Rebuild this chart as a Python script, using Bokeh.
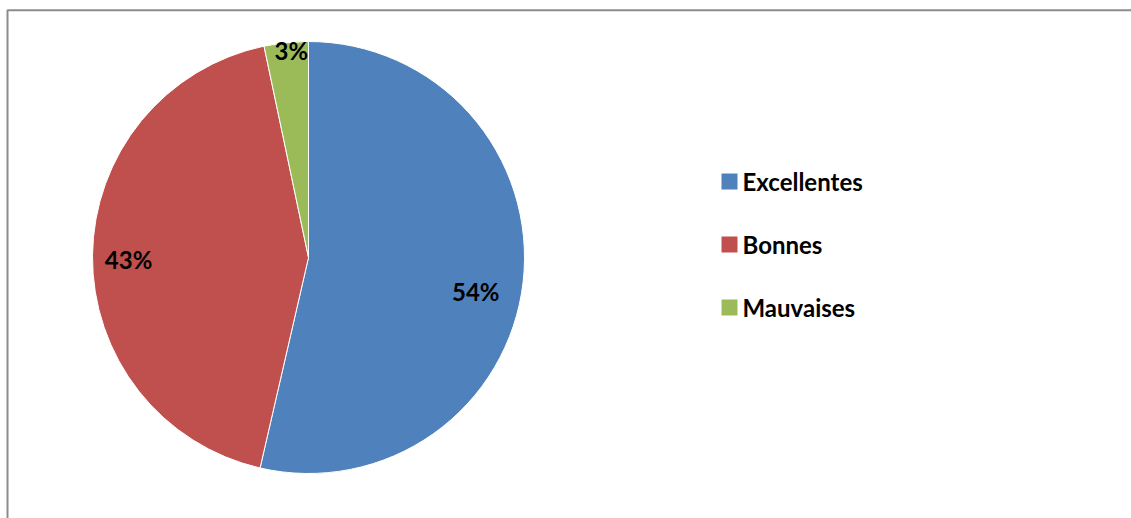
import numpy as np
from bokeh.plotting import figure
from bokeh.models import Range1d, ColumnDataSource
from bokeh.core.properties import value
from bokeh.embed import file_html
from bokeh.resources import INLINE

# ---- data ----
categories = ["Excellentes", "Bonnes", "Mauvaises"]
shares = [53.6, 43.1, 3.3]          # slice sizes
labels = ["54%", "43%", "3%"]       # labels as printed
colors = ["#4F81BD", "#C0504D", "#9BBB59"]

# ---- layout ----
W, H = 1131, 518
cx, cy, R = 308, 261, 216
label_r = [0.79, 0.833, 0.96]
label_shift_deg = [-5.0, 1.1, -1.2]
FONT = "Lato"

p = figure(width=W, height=H, output_backend="svg", toolbar_location=None,
           x_range=Range1d(0, W), y_range=Range1d(0, H),
           x_axis_type=None, y_axis_type=None, min_border=0)
p.outline_line_color = None
p.grid.visible = False
p.background_fill_color = "white"
p.border_fill_color = "white"

vals = np.array(shares, dtype=float)
frac = vals / vals.sum()
ends = np.pi / 2 - 2 * np.pi * np.cumsum(frac)
starts = np.concatenate([[np.pi / 2], ends[:-1]])
src = ColumnDataSource(dict(start=starts, end=ends, color=colors, cat=categories))
p.wedge(x=cx, y=cy, radius=R, start_angle="start", end_angle="end",
        direction="clock", fill_color="color", line_color="white", line_width=1,
        source=src)

mids = (starts + ends) / 2 + np.radians(label_shift_deg)
lx = [cx + R * r * np.cos(m) for r, m in zip(label_r, mids)]
ly = [cy + R * r * np.sin(m) for r, m in zip(label_r, mids)]
p.text(x=lx, y=ly, text=labels,
       text_font=value(FONT), text_font_style="bold", text_font_size="24px",
       text_align="center", text_baseline="middle", text_color="black")

# legend
leg_x, leg_y0, leg_dy = 729, 337, 63
ys = [leg_y0 - i * leg_dy for i in range(len(categories))]
p.rect(x=[leg_x] * len(categories), y=ys, width=16, height=16,
       fill_color=colors, line_color=None)
p.text(x=[leg_x + 13] * len(categories), y=ys, text=categories,
       text_font=value(FONT), text_font_style="bold", text_font_size="24px",
       text_align="left", text_baseline="middle", text_color="black")

# chart border (top & left visible; right/bottom outside the window)
p.line(x=[7, 7, W + 20], y=[-20, 508.3, 508.3], line_color="#8C8C8C", line_width=2)

open("out.html", "w").write(file_html(p, INLINE))
